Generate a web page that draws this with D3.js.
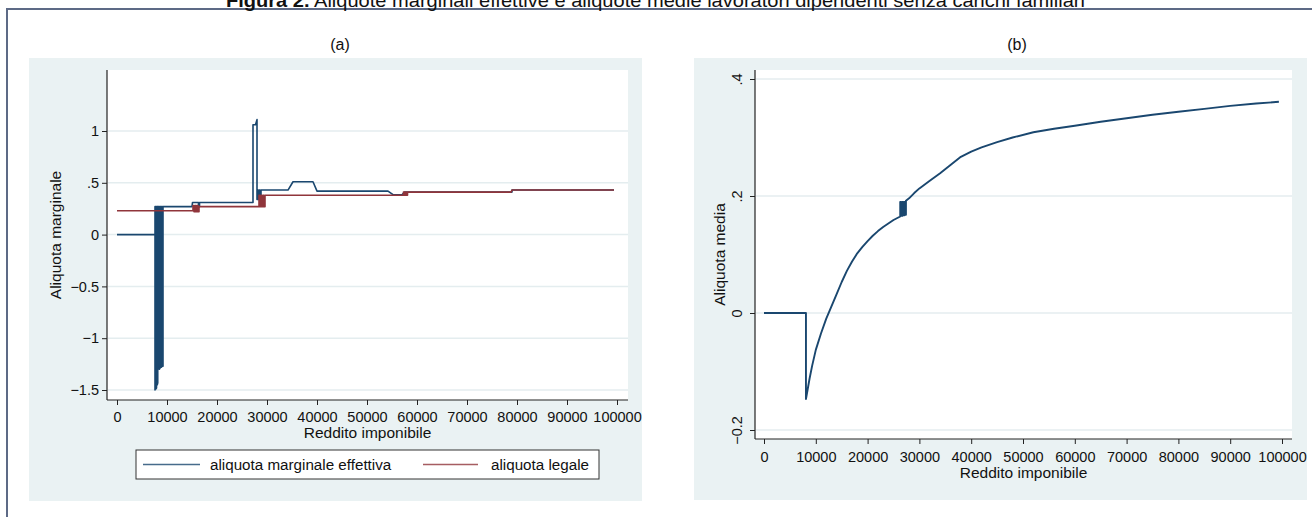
<!DOCTYPE html>
<html>
<head>
<meta charset="utf-8">
<script src="https://cdn.jsdelivr.net/npm/d3@7"></script>
<style>
  body { margin: 0; background: #fff; }
  text { font-family: "Liberation Sans", Arial, sans-serif; fill: #111; }
</style>
</head>
<body>
<div id="chart"></div>
<script>
// tick values
var xTicks = [0, 10000, 20000, 30000, 40000, 50000, 60000, 70000, 80000, 90000, 100000];
var yTicksA = [-1.5, -1, -0.5, 0, 0.5, 1];
var yTicksB = [-0.2, 0, 0.2, 0.4];

// (a) aliquota marginale effettiva  [reddito, aliquota]
var marginaleEffettiva = [
    [0, 0], [7600, 0],
    [7600, -1.50], [7600, 0.27], [7750, 0.27], [7750, -1.49], [7900, -1.48], [7900, 0.27],
    [8050, 0.27], [8050, -1.45], [8150, -1.43], [8150, 0.27],
    [8450, 0.27], [8450, -1.30], [8600, -1.29], [8600, 0.27], [8750, 0.27], [8750, -1.28],
    [8900, -1.28], [8900, 0.27], [9050, 0.27], [9050, -1.27], [9200, -1.27], [9200, 0.27],
    [15000, 0.27], [15100, 0.31], [16300, 0.31], [16300, 0.27], [16500, 0.27], [16500, 0.31],
    [27200, 0.31], [27200, 1.06], [27700, 1.06], [28000, 1.11], [28000, 0.34],
    [28200, 0.43], [28200, 0.34], [28400, 0.34], [28400, 0.43], [28600, 0.43], [28600, 0.36],
    [28800, 0.36], [28800, 0.43], [34200, 0.43], [35200, 0.51], [39200, 0.51], [40000, 0.42],
    [54200, 0.42], [55200, 0.385], [57000, 0.385], [57500, 0.41], [79000, 0.41],
    [79000, 0.43], [99400, 0.43]
];

// (a) aliquota legale
var aliquotaLegale = [
    [0, 0.23], [15200, 0.23],
    [15200, 0.28], [15400, 0.28], [15400, 0.22], [15600, 0.22], [15600, 0.28], [15800, 0.28],
    [15800, 0.22], [16000, 0.22], [16000, 0.28], [16200, 0.28], [16200, 0.22], [16400, 0.22],
    [16400, 0.27], [28400, 0.27],
    [28400, 0.38], [28600, 0.38], [28600, 0.27], [28800, 0.27], [28800, 0.38], [29000, 0.38],
    [29000, 0.27], [29200, 0.27], [29200, 0.38], [29400, 0.38], [29400, 0.27], [29600, 0.27],
    [29600, 0.38], [57300, 0.38],
    [57300, 0.41], [57500, 0.41], [57500, 0.38], [57700, 0.38], [57700, 0.41], [57900, 0.41],
    [57900, 0.38], [58100, 0.38], [58100, 0.41],
    [78800, 0.41], [79000, 0.43], [99400, 0.43]
];

// (b) aliquota media
var aliquotaMedia = [
    [0, 0], [8100, 0], [8100, -0.147], [8400, -0.132], [8800, -0.112], [9300, -0.09],
    [10000, -0.063], [11000, -0.035], [12000, -0.01], [13000, 0.011], [14000, 0.032],
    [15000, 0.053], [16000, 0.072], [17000, 0.088], [18000, 0.102], [19000, 0.113],
    [20000, 0.123], [21000, 0.132], [22000, 0.14], [23000, 0.147], [24000, 0.153],
    [25000, 0.159], [26300, 0.165],
    [26300, 0.19], [26500, 0.19], [26500, 0.166], [26700, 0.166], [26700, 0.19], [26900, 0.19],
    [26900, 0.167], [27100, 0.167], [27100, 0.19], [27300, 0.19], [27300, 0.168], [27400, 0.168],
    [27400, 0.192], [28000, 0.196], [29000, 0.205], [30000, 0.213], [32000, 0.226],
    [34000, 0.239], [36000, 0.253], [38000, 0.267], [40000, 0.276], [42000, 0.283],
    [45000, 0.292], [48000, 0.3], [52000, 0.309], [56000, 0.315], [60000, 0.32],
    [65000, 0.327], [70000, 0.333], [75000, 0.339], [80000, 0.344], [85000, 0.349],
    [90000, 0.354], [95000, 0.358], [99400, 0.361]
];

var navy = "#1a476f";
var maroon = "#90353b";
var bg = "#eaf2f3";
var grid = "#e4edef";

var svg = d3.select("#chart").append("svg")
    .attr("width", 1312)
    .attr("height", 517);

// outer frame + title (title is cut by the top edge, as in the original)
svg.append("path")
    .attr("d", "M7,517 L7,9 L1312,9")
    .attr("fill", "none")
    .attr("stroke", "#5d6a86")
    .attr("stroke-width", 2);

var title = svg.append("text")
    .attr("x", 226).attr("y", 7)
    .attr("textLength", 859)
    .attr("lengthAdjust", "spacingAndGlyphs")
    .style("font-size", "19px");
title.append("tspan").style("font-weight", "bold").text("Figura 2.");
title.append("tspan").text(" Aliquote marginali effettive e aliquote medie lavoratori dipendenti senza carichi familiari");

function panel(opt) {
    var g = svg.append("g");
    g.append("rect")
        .attr("x", opt.bg[0]).attr("y", opt.bg[1])
        .attr("width", opt.bg[2] - opt.bg[0]).attr("height", opt.bg[3] - opt.bg[1])
        .attr("fill", bg);
    g.append("rect")
        .attr("x", opt.left).attr("y", opt.top)
        .attr("width", opt.right - opt.left).attr("height", opt.bottom - opt.top)
        .attr("fill", "#fff");

    g.append("text")
        .attr("x", opt.titleX).attr("y", 50)
        .attr("text-anchor", "middle")
        .style("font-size", "16px")
        .text(opt.title);

    // gridlines
    g.selectAll(".grid")
        .data(opt.yTicks)
        .enter()
        .append("line")
        .attr("x1", opt.left + 1).attr("x2", opt.right)
        .attr("y1", function(d) { return opt.y(d); })
        .attr("y2", function(d) { return opt.y(d); })
        .attr("stroke", grid)
        .attr("stroke-width", 1.5);

    // axis lines
    g.append("line")
        .attr("x1", opt.left).attr("x2", opt.right)
        .attr("y1", opt.bottom).attr("y2", opt.bottom)
        .attr("stroke", "#222").attr("stroke-width", 1.2);
    g.append("line")
        .attr("x1", opt.left).attr("x2", opt.left)
        .attr("y1", opt.top).attr("y2", opt.bottom)
        .attr("stroke", "#222").attr("stroke-width", 1.2);

    var xAxis = g.append("g")
        .attr("transform", "translate(0," + opt.bottom + ")")
        .call(d3.axisBottom(opt.x).tickValues(xTicks).tickSize(5).tickPadding(opt.xPad).tickFormat(d3.format("d")));
    xAxis.select(".domain").remove();
    xAxis.selectAll("text").style("font-size", "14.5px").attr("fill", "#111");
    xAxis.selectAll("line").attr("stroke", "#222");

    var yAxis = g.append("g")
        .attr("transform", "translate(" + opt.left + ",0)")
        .call(d3.axisLeft(opt.y).tickValues(opt.yTicks).tickSize(5).tickPadding(3)
            .tickFormat(function(d) { return d3.format("")(d).replace(/^(-?)0\./, "$1."); }));
    yAxis.select(".domain").remove();
    yAxis.selectAll("text").style("font-size", "14.5px").attr("fill", "#111");
    yAxis.selectAll("line").attr("stroke", "#222");
    if (opt.rotateY) {
        yAxis.selectAll("text")
            .attr("x", null).attr("dy", null)
            .attr("text-anchor", "middle")
            .attr("transform", "translate(-13,0) rotate(-90)");
    }

    g.append("text")
        .attr("x", (opt.left + opt.right) / 2).attr("y", opt.xLabelY)
        .attr("text-anchor", "middle")
        .style("font-size", "15.5px")
        .text("Reddito imponibile");

    g.append("text")
        .attr("transform", "translate(" + opt.yLabelX + "," + ((opt.top + opt.bottom) / 2) + ") rotate(-90)")
        .attr("text-anchor", "middle")
        .style("font-size", "15.5px")
        .text(opt.yLabel);

    return g;
}

// ---- panel (a)
var xA = d3.scaleLinear().domain([0, 100000]).range([117, 617]);
var yA = d3.scaleLinear().domain([-1.5, 1]).range([390, 131]);
var gA = panel({
    bg: [29, 58, 642, 501], left: 107, right: 628, top: 70, bottom: 400,
    x: xA, y: yA, yTicks: yTicksA, xPad: 7, title: "(a)", titleX: 340,
    xLabelY: 438, yLabel: "Aliquota marginale", yLabelX: 61, rotateY: false
});

var lineA = d3.line().x(function(d) { return xA(d[0]); }).y(function(d) { return yA(d[1]); });
gA.append("path").datum(marginaleEffettiva)
    .attr("d", lineA).attr("fill", "none")
    .attr("stroke", navy).attr("stroke-width", 1.6).attr("stroke-linejoin", "round");
gA.append("path").datum(aliquotaLegale)
    .attr("d", lineA).attr("fill", "none")
    .attr("stroke", maroon).attr("stroke-width", 1.6).attr("stroke-linejoin", "round");

// legend
var leg = gA.append("g");
leg.append("rect")
    .attr("x", 136).attr("y", 450).attr("width", 463).attr("height", 29)
    .attr("fill", "#fff").attr("stroke", "#333").attr("stroke-width", 1);
leg.append("line").attr("x1", 143).attr("x2", 200).attr("y1", 464.5).attr("y2", 464.5)
    .attr("stroke", navy).attr("stroke-width", 1.4).attr("opacity", 0.8);
leg.append("text").attr("x", 210).attr("y", 470).style("font-size", "15.2px").text("aliquota marginale effettiva");
leg.append("line").attr("x1", 423).attr("x2", 478).attr("y1", 464.5).attr("y2", 464.5)
    .attr("stroke", maroon).attr("stroke-width", 1.4).attr("opacity", 0.8);
leg.append("text").attr("x", 491).attr("y", 470).style("font-size", "15.2px").text("aliquota legale");

// ---- panel (b)
var xB = d3.scaleLinear().domain([0, 100000]).range([764, 1282]);
var yB = d3.scaleLinear().domain([-0.2, 0.4]).range([430, 79]);
var gB = panel({
    bg: [694, 58, 1307, 500], left: 755, right: 1292, top: 70, bottom: 439,
    x: xB, y: yB, yTicks: yTicksB, xPad: 8, title: "(b)", titleX: 1017,
    xLabelY: 478, yLabel: "Aliquota media", yLabelX: 725, rotateY: true
});

var lineB = d3.line().x(function(d) { return xB(d[0]); }).y(function(d) { return yB(d[1]); });
gB.append("path").datum(aliquotaMedia)
    .attr("d", lineB).attr("fill", "none")
    .attr("stroke", navy).attr("stroke-width", 1.9).attr("stroke-linejoin", "round");
</script>
</body>
</html>
